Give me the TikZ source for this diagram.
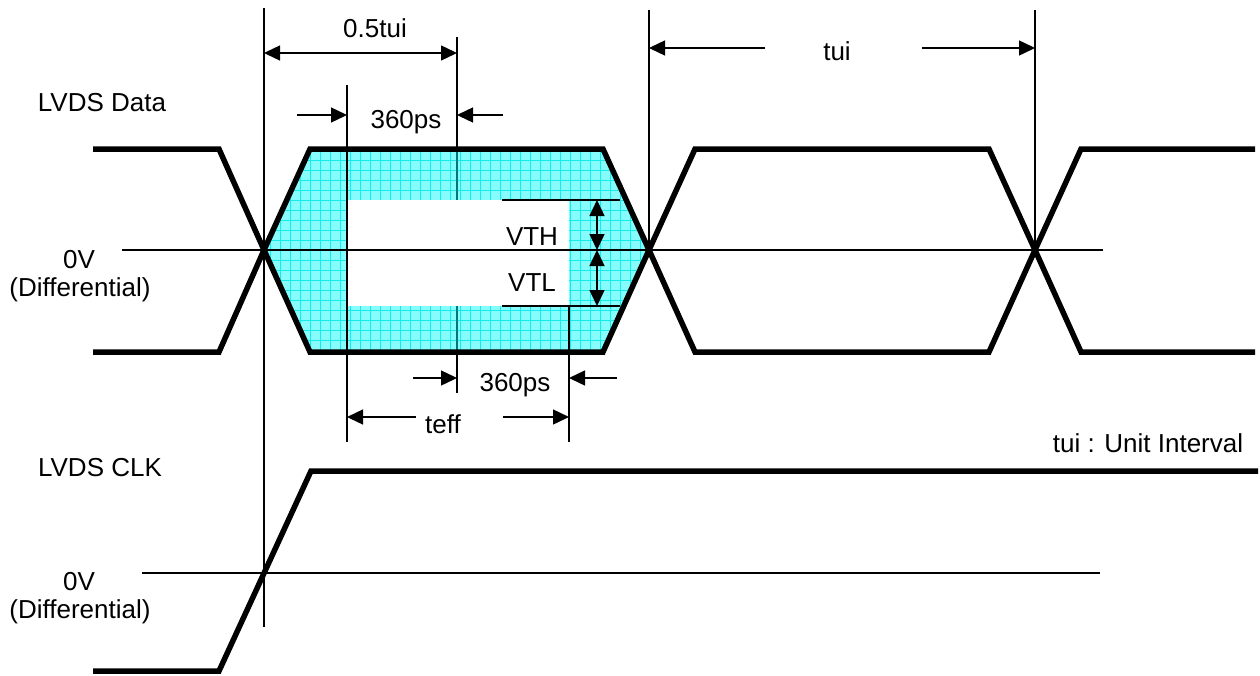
\documentclass[tikz,border=0pt]{standalone}
\usepackage{fontspec}
\setmainfont{Liberation Sans}
\usetikzlibrary{arrows.meta}
\definecolor{eyefill}{RGB}{135,252,252}
\definecolor{eyegrid}{RGB}{20,235,235}
\definecolor{teal2}{RGB}{0,120,120}
\begin{document}
\begin{tikzpicture}[x=1pt,y=-1pt,
  wave/.style={line width=5.5pt,line join=miter,line cap=butt},
  thin/.style={line width=1.4pt},
  dim/.style={line width=1.4pt,-{Triangle[length=16pt,width=15pt]}},
  dimboth/.style={line width=1.4pt,{Triangle[length=16pt,width=15pt]}-{Triangle[length=16pt,width=15pt]}},
  lbl/.style={font=\fontsize{26}{30}\selectfont,inner sep=0pt}]
\useasboundingbox (0,0) rectangle (1260,675);
\fill[white] (0,0) rectangle (1260,675);
% key coordinates
\coordinate (x1) at (264,250);
\coordinate (x2) at (649,250);
\coordinate (x3) at (1035,250);
\coordinate (eTL) at (310,149);
\coordinate (eTR) at (603,149);
\coordinate (eBL) at (310,352);
\coordinate (eBR) at (603,352);
% eye fill with grid
\begin{scope}
\clip (x1) -- (eTL) -- (eTR) -- (x2) -- (eBR) -- (eBL) -- cycle;
\fill[eyefill] (250,140) rectangle (660,360);
\draw[eyegrid,line width=0.6pt,step=10pt] (250,140) grid (660,360);
\end{scope}
\fill[white] (347,200) rectangle (569,306);
% zero lines
\coordinate (z1a) at (122,250); \coordinate (z1b) at (1103,250);
\coordinate (z2a) at (142,573); \coordinate (z2b) at (1100,573);
\draw[thin] (z1a) -- (z1b);
\draw[thin] (z2a) -- (z2b);
% vertical reference lines
\coordinate (v1t) at (264,8); \coordinate (v1b) at (264,627);
\draw[thin] (v1t) -- (v1b);
\coordinate (v2t) at (347,85); \coordinate (v2b) at (347,442);
\draw[thin] (v2t) -- (v2b);
\coordinate (v3t) at (457,37); \coordinate (v3a) at (457,149);
\coordinate (v3c) at (457,200); \coordinate (v3d) at (457,306);
\coordinate (v3e) at (457,352); \coordinate (v3b) at (457,393);
\draw[thin] (v3t) -- (v3a);
\draw[thin,teal2] (v3a) -- (v3c);
\draw[thin,teal2] (v3d) -- (v3e);
\draw[thin] (v3e) -- (v3b);
\coordinate (v4t) at (569,306); \coordinate (v4b) at (569,442);
\draw[thin] (v4t) -- (v4b);
\coordinate (v5t) at (649,10);
\draw[thin] (v5t) -- (x2);
\coordinate (v6t) at (1035,10);
\draw[thin] (v6t) -- (x3);
% VTH / VTL levels
\coordinate (h1a) at (502,200); \coordinate (h1b) at (620,200);
\coordinate (h2a) at (502,306); \coordinate (h2b) at (620,306);
\draw[thin] (h1a) -- (h1b);
\draw[thin] (h2a) -- (h2b);
% data waveforms
\draw[wave] (93,149) -- (219,149) -- (x1) -- (eBL) -- (eBR) -- (x2) -- (695,149) -- (989,149) -- (x3) -- (1081,352) -- (1255,352);
\draw[wave] (93,352) -- (219,352) -- (x1) -- (eTL) -- (eTR) -- (x2) -- (695,352) -- (989,352) -- (x3) -- (1081,149) -- (1255,149);
% clock waveform
\coordinate (c0) at (93,671); \coordinate (c1) at (219,671);
\coordinate (c2) at (311,471); \coordinate (c3) at (1258,471);
\draw[wave] (c0) -- (c1) -- (c2) -- (c3);
% dimension arrows
\coordinate (a1l) at (264,53); \coordinate (a1r) at (457,53);
\draw[dimboth] (a1l) -- (a1r);
\coordinate (a2s) at (297,115); \coordinate (a2e) at (347,115);
\draw[dim] (a2s) -- (a2e);
\coordinate (a3s) at (503,115); \coordinate (a3e) at (457,115);
\draw[dim] (a3s) -- (a3e);
\coordinate (a4s) at (413,378); \coordinate (a4e) at (457,378);
\draw[dim] (a4s) -- (a4e);
\coordinate (a5s) at (617,378); \coordinate (a5e) at (569,378);
\draw[dim] (a5s) -- (a5e);
\coordinate (a6s) at (416,417); \coordinate (a6e) at (347,417);
\draw[dim] (a6s) -- (a6e);
\coordinate (a7s) at (503,417); \coordinate (a7e) at (569,417);
\draw[dim] (a7s) -- (a7e);
\coordinate (a8s) at (765,48); \coordinate (a8e) at (649,48);
\draw[dim] (a8s) -- (a8e);
\coordinate (a9s) at (922,48); \coordinate (a9e) at (1035,48);
\draw[dim] (a9s) -- (a9e);
\coordinate (vth1) at (597,200); \coordinate (vth2) at (597,250); \coordinate (vtl2) at (597,306);
\draw[dimboth] (vth1) -- (vth2);
\draw[dimboth] (vth2) -- (vtl2);
% labels
\node[lbl] (t05) at (375,28) {0.5tui};
\node[lbl] (t360a) at (406,122) {360ps};
\node[lbl] (t360b) at (515,385) {360ps};
\node[lbl] (tteff) at (443,424) {teff};
\node[lbl] (ttui) at (837,51) {tui};
\node[lbl] (tvth) at (532,237) {VTH};
\node[lbl] (tvtl) at (532,283) {VTL};
\node[lbl] (tdata) at (102,103) {LVDS Data};
\node[lbl] (t0v1) at (79,260) {0V};
\node[lbl] (tdiff1) at (80,290) {(Differential)};
\node[lbl] (tclk) at (100,468) {LVDS CLK};
\node[lbl] (t0v2) at (79,582) {0V};
\node[lbl] (tdiff2) at (80,612) {(Differential)};
\node[lbl] (tunit) at (1148,443) {tui : Unit Interval};
\end{tikzpicture}
\end{document}
